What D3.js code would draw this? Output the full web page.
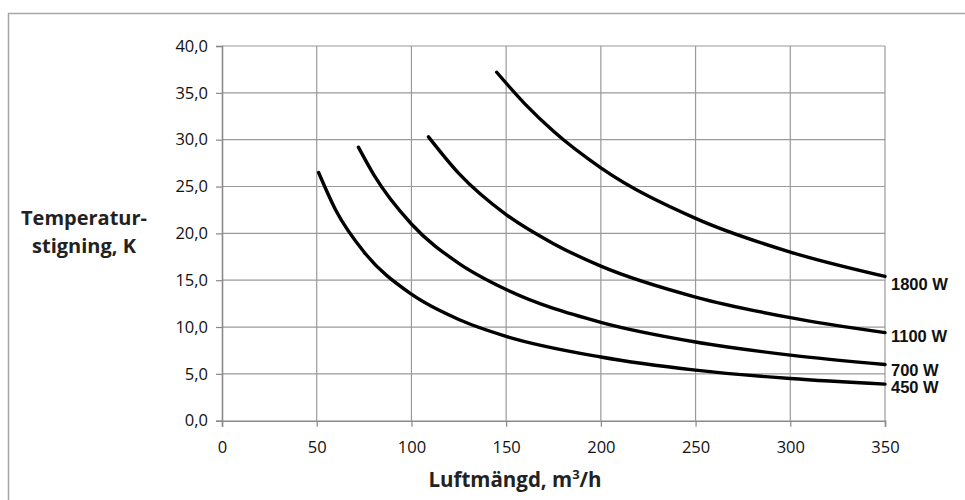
<!DOCTYPE html>
<html>
<head>
<meta charset="utf-8">
<script src="https://cdn.jsdelivr.net/npm/d3@7"></script>
<style>
  body { margin: 0; background: #fff; }
  svg { display: block; }
</style>
</head>
<body>
<div id="chart"></div>
<script>
// Data
var seriesNames = ["450 W", "700 W", "1100 W", "1800 W"];
var airflow450 = [51, 60, 75, 100, 125, 150, 200, 250, 300, 350];
var temp450 = [26.5, 22.5, 18.0, 13.5, 10.8, 9.0, 6.8, 5.4, 4.5, 3.9];
var airflow700 = [72, 80, 100, 125, 150, 200, 250, 300, 350];
var temp700 = [29.2, 26.3, 21.0, 16.8, 14.0, 10.5, 8.4, 7.0, 6.0];
var airflow1100 = [109, 125, 150, 175, 200, 250, 300, 350];
var temp1100 = [30.3, 26.4, 22.0, 18.9, 16.5, 13.2, 11.0, 9.4];
var airflow1800 = [145, 160, 175, 200, 250, 300, 350];
var temp1800 = [37.2, 33.8, 30.9, 27.0, 21.6, 18.0, 15.4];
var xTicks = [0, 50, 100, 150, 200, 250, 300, 350];
var yTicks = [0, 5, 10, 15, 20, 25, 30, 35, 40];

var W = 965, H = 500;
var margin = {top: 46, right: 80, bottom: 79, left: 222},
    width = 885 - margin.left,
    height = 420.7 - margin.top;

var svg = d3.select("#chart")
  .append("svg")
    .attr("width", W)
    .attr("height", H);

// outer frame
svg.append("rect")
  .attr("x", 8.5).attr("y", 13.5)
  .attr("width", 960).attr("height", 500)
  .attr("fill", "none")
  .attr("stroke", "#a6a6a6")
  .attr("stroke-width", 1.5);

var g = svg.append("g")
  .attr("transform", `translate(${margin.left},${margin.top})`);

var x = d3.scaleLinear().domain([0, 350]).range([0, width]);
var y = d3.scaleLinear().domain([0, 40]).range([height, 0]);

// grid
g.selectAll(".hgrid")
  .data(yTicks.filter(d => d > 0))
  .enter().append("line")
    .attr("x1", 0).attr("x2", width)
    .attr("y1", d => y(d)).attr("y2", d => y(d))
    .attr("stroke", "#9a9a9a").attr("stroke-width", 1.2);
g.selectAll(".vgrid")
  .data(xTicks.filter(d => d > 0))
  .enter().append("line")
    .attr("y1", 0).attr("y2", height)
    .attr("x1", d => x(d)).attr("x2", d => x(d))
    .attr("stroke", "#9a9a9a").attr("stroke-width", 1.2);

// axes
var fmt = d => d3.format(".1f")(d).replace(".", ",");
var yAxis = g.append("g")
  .call(d3.axisLeft(y).tickValues(yTicks).tickFormat(fmt).tickSize(6).tickPadding(8));
var xAxis = g.append("g")
  .attr("transform", `translate(0,${height})`)
  .call(d3.axisBottom(x).tickValues(xTicks).tickSize(6).tickPadding(15));

[xAxis, yAxis].forEach(a => {
  a.select(".domain").attr("stroke", "#8a8a8a").attr("stroke-width", 1.6);
  a.selectAll(".tick line").attr("stroke", "#8a8a8a").attr("stroke-width", 1.2);
  a.selectAll("text")
    .attr("font-family", "'Open Sans', sans-serif")
    .attr("font-size", 16.5)
    .attr("fill", "#111");
});

// curves
var xs = [airflow450, airflow700, airflow1100, airflow1800];
var ys = [temp450, temp700, temp1100, temp1800];
var labelDy = [8.5, 11.5, 9, 14];
var line = d3.line()
  .x(d => x(d[0]))
  .y(d => y(d[1]))
  .curve(d3.curveMonotoneX);

seriesNames.forEach((name, i) => {
  var pts = d3.zip(xs[i], ys[i]);
  g.append("path")
    .datum(pts)
    .attr("d", line)
    .attr("fill", "none")
    .attr("stroke", "#000")
    .attr("stroke-width", 3.4)
    .attr("stroke-linecap", "round");
  var last = pts[pts.length - 1];
  g.append("text")
    .attr("x", x(last[0]) + 6)
    .attr("y", y(last[1]) + labelDy[i])
    .attr("font-family", "'Liberation Sans', Arial, sans-serif")
    .attr("font-weight", "bold")
    .attr("font-size", 16.5)
    .attr("fill", "#111")
    .text(name);
});

// axis titles
var yTitle = svg.append("text")
  .attr("font-family", "'Open Sans', sans-serif")
  .attr("font-weight", "bold")
  .attr("font-size", 20)
  .attr("fill", "#222")
  .attr("text-anchor", "middle");
yTitle.append("tspan").attr("x", 84).attr("y", 225).text("Temperatur-");
yTitle.append("tspan").attr("x", 84).attr("y", 253).text("stigning, K");

var xTitle = svg.append("text")
  .attr("x", 515).attr("y", 487)
  .attr("font-family", "'Open Sans', sans-serif")
  .attr("font-weight", "bold")
  .attr("font-size", 20.5)
  .attr("fill", "#222")
  .attr("text-anchor", "middle");
xTitle.append("tspan").text("Luftmängd, m");
xTitle.append("tspan").attr("font-size", 13).attr("dy", -8).text("3");
xTitle.append("tspan").attr("dy", 8).text("/h");
</script>
</body>
</html>
